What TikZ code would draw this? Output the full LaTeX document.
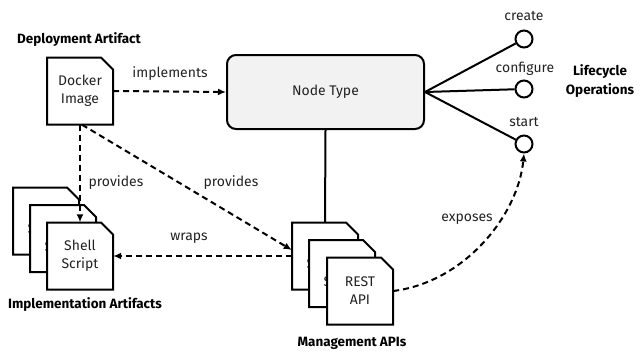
\documentclass[tikz,border=0pt]{standalone}
\usepackage{fontspec}
\setmainfont{Fira Sans}
\usetikzlibrary{arrows.meta}
\definecolor{boxgray}{HTML}{F2F2F2}
\definecolor{txt}{HTML}{222222}
\tikzset{
  docbox/.style={minimum width=66bp, minimum height=67bp, inner sep=0pt, align=center, font=\fontsize{14}{18}\selectfont, text=txt},
  docline/.style={draw=black, fill=white, line width=2bp, line join=miter},
  typebox/.style={draw=black, fill=boxgray, line width=2bp, rounded corners=9bp, minimum width=197bp, minimum height=74bp, font=\fontsize{14}{17}\selectfont, text=txt},
  opcirc/.style={circle, draw=black, fill=white, line width=2bp, minimum size=17bp, inner sep=0pt},
  solidline/.style={draw=black, line width=2bp},
  dashedarrow/.style={draw=black, line width=2bp, dash pattern=on 6bp off 4bp, -{Latex[length=8bp,width=7bp]}},
  lbl/.style={font=\fontsize{14}{17}\selectfont, text=txt, inner sep=0pt},
  title/.style={font=\bfseries\fontsize{13.5}{19}\selectfont, text=black, inner sep=0pt, align=center}
}
\newcommand\docnode[4]{%
  \filldraw[docline] (#2-33,#3+33.5) -- (#2-33,#3-33.5) -- (#2+21,#3-33.5) -- (#2+33,#3-21.5) -- (#2+33,#3+33.5) -- cycle;
  \node[docbox] (#1) at (#2,#3) {#4};}
\begin{document}
\begin{tikzpicture}[x=1bp,y=-1bp]
\useasboundingbox (0,0) rectangle (640,352);
% node type
\node[typebox] (type) at (325.5,92) {Node Type};
% lifecycle ops
\node[opcirc] (create) at (524,39) {};
\node[opcirc] (configure) at (524,89) {};
\node[opcirc] (start) at (524,144) {};
\node[lbl] (lcreate) at (524,16) {create};
\node[lbl] (lconfigure) at (525,69) {configure};
\node[lbl] (lstart) at (524,122) {start};
\node[title] (lifecycle) at (600,81) {Lifecycle\\Operations};
\coordinate (tr) at (type.east);
\draw[solidline] (tr) -- (create);
\draw[solidline] (tr) -- (configure);
\draw[solidline] (tr) -- (start);
% docker
\docnode{docker}{80}{91}{Docker\\Image}
\node[title] (depl) at (79,40) {Deployment Artifact};
% shell scripts
\docnode{shell1}{46}{221}{Shell\\Script}
\docnode{shell2}{63}{238.5}{Shell\\Script}
\docnode{shell3}{80}{256}{Shell\\Script}
\node[title] (impl) at (85,305) {Implementation Artifacts};
% APIs
\draw[solidline] (type.south) -- (325,222.5);
\docnode{api1}{325}{256}{Shell\\Script}
\docnode{api2}{342}{273.5}{Shell\\Script}
\docnode{api3}{360}{291}{REST\\API}
\node[title] (mgmt) at (352,343) {Management APIs};
% connectors
\draw[dashedarrow] (docker.east) -- (type.west);
\node[lbl] at (170,74) {implements};
\draw[dashedarrow] (docker.south) -- (shell3.north);
\node[lbl] at (116,183) {provides};
\draw[dashedarrow] ([xshift=2bp]docker.south) -- ([yshift=6bp]api1.west);
\node[lbl] at (231,183) {provides};
\draw[dashedarrow] (api1.west) -- (shell3.east);
\node[lbl] at (189,238) {wraps};
\draw[dashedarrow] (api3.east) .. controls (465,282) and (518,215) .. (start.south);
\node[lbl] at (467,219) {exposes};
\end{tikzpicture}
\end{document}
